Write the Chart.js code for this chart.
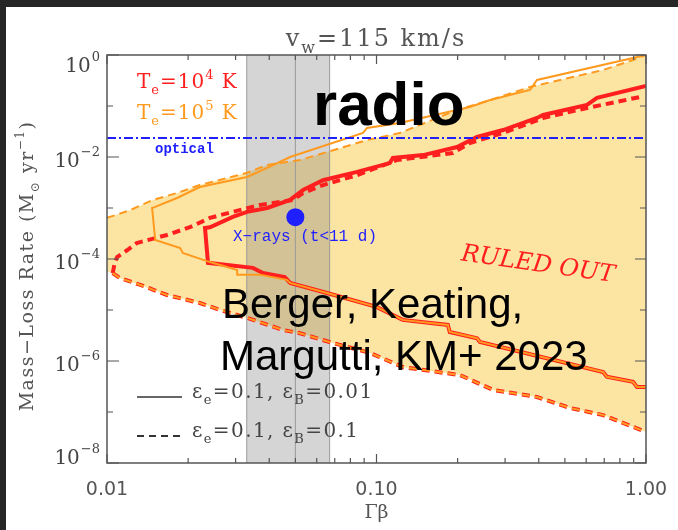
<!DOCTYPE html>
<html>
<head>
<meta charset="utf-8">
<script src="https://cdn.jsdelivr.net/npm/chart.js@4.4.1/dist/chart.umd.min.js"></script>
<style>
  html, body { margin: 0; padding: 0; background: #fff; }
  canvas { display: block; }
</style>
</head>
<body>
<canvas id="chart" width="678" height="530"></canvas>
<script>
// Gamma*beta (x) and mass-loss rate in Msun/yr (y)

// Te = 1e5 K, eps_B = 0.1 (orange dashed), upper edge
const orangeDashUpX = [0.0100, 0.0122, 0.0148, 0.0182, 0.0221, 0.0331, 0.0393, 0.0520, 0.0922, 0.122, 0.199, 0.264, 0.371, 0.693, 0.895, 1.00];
const orangeDashUpY = [6.4e-4, 9.1e-4, 1.44e-3, 1.97e-3, 2.82e-3, 4.9e-3, 7.0e-3, 8.7e-3, 0.0215, 0.0296, 0.0835, 0.131, 0.236, 0.508, 0.80, 1.0];

// eps_B = 0.1 lower edge (both temperatures share it)
const dashLowX = [0.0105, 0.0112, 0.0133, 0.0167, 0.0221, 0.0263, 0.0331, 0.0450, 0.0520, 0.0690, 0.0946, 0.125, 0.204, 0.271, 0.394, 0.522, 0.693, 0.821, 1.00];
const dashLowY = [5.3e-5, 4.2e-5, 3.1e-5, 1.97e-5, 1.37e-5, 1.0e-5, 7.0e-6, 4.05e-6, 3.5e-6, 2.25e-6, 1.44e-6, 7.6e-7, 5.3e-7, 2.7e-7, 1.97e-7, 1.2e-7, 8.7e-8, 6.1e-8, 4.05e-8];
const orangeDashLowStart = {x: 0.0100, y: 5.6e-5};

// Te = 1e4 K, eps_B = 0.1 (red dashed), upper edge from the nose
const redDashUpX = [0.0107, 0.0109, 0.0119, 0.0129, 0.0167, 0.0203, 0.0241, 0.0293, 0.0370, 0.0490, 0.0534, 0.0633, 0.0847, 0.119, 0.192, 0.222, 0.295, 0.415, 0.604, 0.950];
const redDashUpY = [8.7e-5, 1.09e-4, 1.50e-4, 2.06e-4, 2.96e-4, 4.2e-4, 6.4e-4, 8.4e-4, 1.15e-3, 1.44e-3, 1.97e-3, 2.82e-3, 4.4e-3, 8.7e-3, 0.0120, 0.0188, 0.0296, 0.0582, 0.0914, 0.150];

// Te = 1e4 K, eps_B = 0.01 (red solid)
const redSolidUpX = [0.0231, 0.0241, 0.0293, 0.0331, 0.0393, 0.0478, 0.0534, 0.0633, 0.0847, 0.112, 0.115, 0.149, 0.199, 0.236, 0.295, 0.394, 0.415, 0.604, 0.658, 1.00];
const redSolidUpY = [4.05e-4, 4.2e-4, 6.7e-4, 8.4e-4, 1.0e-3, 1.44e-3, 2.25e-3, 3.5e-3, 5.1e-3, 7.6e-3, 9.6e-3, 0.0109, 0.0157, 0.0247, 0.0338, 0.0582, 0.0666, 0.105, 0.144, 0.247];
const redSolidLowX = [0.0237, 0.0348, 0.0379, 0.0457];
const redSolidLowY = [8.4e-5, 6.7e-5, 5.3e-5, 4.4e-5];

// Te = 1e5 K, eps_B = 0.01 (orange solid)
const orangeSolidUpX = [0.0147, 0.0151, 0.0182, 0.0221, 0.0331, 0.0393, 0.0478, 0.0891, 0.0922, 0.122, 0.222, 0.264, 0.371, 0.394, 0.895, 1.00];
const orangeSolidUpY = [1.0e-3, 1.05e-3, 1.57e-3, 2.58e-3, 4.05e-3, 6.1e-3, 0.0100, 0.0296, 0.0370, 0.0464, 0.0956, 0.131, 0.206, 0.324, 0.873, 1.0];
const orangeSolidLowX = [0.0151, 0.0187, 0.0191, 0.0241, 0.0304, 0.0304, 0.0370, 0.0465];
const orangeSolidLowY = [2.36e-4, 1.64e-4, 1.31e-4, 8.7e-5, 6.1e-5, 4.9e-5, 4.9e-5, 3.9e-5];

// eps_B = 0.01 lower edge shared by both temperatures
const solidLowX = [0.0478, 0.0655, 0.100, 0.125, 0.184, 0.187, 0.236, 0.242, 0.693, 0.716, 0.895, 0.926, 1.00];
const solidLowY = [3.4e-5, 2.15e-5, 1.15e-5, 6.4e-6, 5.1e-6, 3.7e-6, 2.8e-6, 2.36e-6, 6.1e-7, 4.9e-7, 3.9e-7, 3.1e-7, 3.1e-7];

// other marks
const bandX = [0.033, 0.067];
const bandMid = 0.05;
const opticalRate = 0.0236;
const xrayX = 0.05;
const xrayY = 6.6e-4;

// axes
const xRange = [0.01, 1];
const yRange = [1e-8, 1];
const xMajorTicks = [0.01, 0.1, 1];
const xTickLabels = ['0.01', '0.10', '1.00'];
const xMinorTicks = [0.02, 0.03, 0.04, 0.05, 0.06, 0.07, 0.08, 0.09, 0.2, 0.3, 0.4, 0.5, 0.6, 0.7, 0.8, 0.9];
const yMajorTicks = [1, 1e-2, 1e-4, 1e-6, 1e-8];
const yTickExponents = ['0', '\u22122', '\u22124', '\u22126', '\u22128'];
const yMinorTicks = [1e-1, 1e-3, 1e-5, 1e-7];

const ORANGE = '#ff9a1f';
const RED = '#ff1f1f';
const BLUE = '#1f1fff';

const pts = (xs, ys) => xs.map((x, i) => ({x: x, y: ys[i]}));
const rev = (a) => a.slice().reverse();

const redSolidPath = rev(pts(redSolidUpX, redSolidUpY))
  .concat(pts(redSolidLowX, redSolidLowY), pts(solidLowX, solidLowY));
const orangeSolidPath = rev(pts(orangeSolidUpX, orangeSolidUpY))
  .concat(pts(orangeSolidLowX, orangeSolidLowY), pts(solidLowX, solidLowY));
const dashLow = pts(dashLowX, dashLowY);
const redDashUpPath = [dashLow[0]].concat(pts(redDashUpX, redDashUpY));

function line(data, color, width, order, extra) {
  return Object.assign({
    data: data, borderColor: color, borderWidth: width, order: order,
    pointRadius: 0, pointHoverRadius: 0, fill: false, tension: 0
  }, extra || {});
}

// fill datasets at index 0 and 1
const datasets = [
  line(pts(orangeDashUpX, orangeDashUpY), 'transparent', 0, 100, {fill: {target: 1}, backgroundColor: '#fce4a3'}),
  line([orangeDashLowStart].concat(dashLow), 'transparent', 0, 101),
  line(bandX.map(x => ({x: x, y: yRange[1]})), 'transparent', 0, 90, {fill: 'start', backgroundColor: 'rgba(120,120,120,0.31)'}),
  line([{x: bandX[0], y: yRange[0]}, {x: bandX[0], y: yRange[1]}], '#999', 1, 80),
  line([{x: bandX[1], y: yRange[0]}, {x: bandX[1], y: yRange[1]}], '#999', 1, 80),
  line([{x: bandMid, y: yRange[0]}, {x: bandMid, y: yRange[1]}], '#999', 1, 80),
  line(redSolidPath, RED, 4, 50),
  line(redDashUpPath, RED, 4, 49, {borderDash: [8, 5]}),
  line(dashLow, RED, 4, 48, {borderDash: [8, 5]}),
  line(orangeSolidPath, ORANGE, 2, 40),
  line(pts(orangeDashUpX, orangeDashUpY), ORANGE, 2, 39, {borderDash: [8, 5]}),
  line(dashLow, ORANGE, 2, 38, {borderDash: [8, 5]}),
  line([{x: xRange[0], y: opticalRate}, {x: xRange[1], y: opticalRate}], BLUE, 2, 30, {borderDash: [9, 3, 2, 3]}),
  line([{x: xrayX, y: xrayY}], BLUE, 0, 20, {showLine: false, pointRadius: 9, pointBackgroundColor: BLUE, pointBorderWidth: 0})
];

const SERIF = '"DejaVu Serif"';

// text with sub/superscripts; ls = letter spacing in px
function setPart(ctx, p, size, family, ls) {
  const s = (p.sub || p.sup) ? Math.round(size * 0.65) : size;
  ctx.font = s + 'px ' + family;
  ctx.letterSpacing = (ls || 0) + 'px';
}
function drawRich(ctx, parts, x, y, size, family, ls) {
  parts.forEach(p => {
    setPart(ctx, p, size, family, ls);
    const dy = p.sub ? size * 0.3 : (p.sup ? -size * 0.45 : 0);
    ctx.fillText(p.t, x, y + dy);
    x += ctx.measureText(p.t).width;
  });
  ctx.letterSpacing = '0px';
  return x;
}
function richWidth(ctx, parts, size, family, ls) {
  let w = 0;
  parts.forEach(p => {
    setPart(ctx, p, size, family, ls);
    w += ctx.measureText(p.t).width;
  });
  ctx.letterSpacing = '0px';
  return w;
}

const decorate = {
  id: 'decorate',
  beforeDraw(chart) {
    const ctx = chart.ctx;
    ctx.save();
    ctx.fillStyle = '#fff';
    ctx.fillRect(0, 0, chart.width, chart.height);
    ctx.fillStyle = '#262626';
    ctx.fillRect(0, 0, chart.width, 7);
    ctx.fillRect(0, 0, 6, chart.height);
    ctx.restore();
  },
  afterDraw(chart) {
    const ctx = chart.ctx;
    const a = chart.chartArea;
    const xs = chart.scales.x, ys = chart.scales.y;
    ctx.save();

    // frame and inward ticks
    ctx.strokeStyle = '#555';
    ctx.lineWidth = 1.5;
    ctx.strokeRect(a.left, a.top, a.right - a.left, a.bottom - a.top);
    ctx.lineWidth = 1.2;
    ctx.beginPath();
    yMajorTicks.forEach(v => {
      const p = ys.getPixelForValue(v);
      ctx.moveTo(a.left, p); ctx.lineTo(a.left + 12, p);
      ctx.moveTo(a.right, p); ctx.lineTo(a.right - 11, p);
    });
    yMinorTicks.forEach(v => {
      const p = ys.getPixelForValue(v);
      ctx.moveTo(a.left, p); ctx.lineTo(a.left + 6, p);
      ctx.moveTo(a.right, p); ctx.lineTo(a.right - 6, p);
    });
    xMajorTicks.forEach(v => {
      const p = xs.getPixelForValue(v);
      ctx.moveTo(p, a.bottom); ctx.lineTo(p, a.bottom - 9);
      ctx.moveTo(p, a.top); ctx.lineTo(p, a.top + 9);
    });
    xMinorTicks.forEach(v => {
      const p = xs.getPixelForValue(v);
      ctx.moveTo(p, a.bottom); ctx.lineTo(p, a.bottom - 5);
      ctx.moveTo(p, a.top); ctx.lineTo(p, a.top + 5);
    });
    ctx.stroke();

    // tick labels
    ctx.fillStyle = '#444';
    ctx.textAlign = 'left';
    ctx.textBaseline = 'alphabetic';
    yMajorTicks.forEach((v, i) => {
      const p = ys.getPixelForValue(v);
      const base = Math.min(Math.max(p + 10, a.top + 17), a.bottom + 1);
      ctx.font = '13px ' + SERIF;
      const ew = ctx.measureText(yTickExponents[i]).width;
      ctx.fillText(yTickExponents[i], 100 - ew, base - 11);
      ctx.font = '20px ' + SERIF;
      const bw = ctx.measureText('10').width;
      ctx.fillText('10', 100 - ew - 1 - bw, base);
    });
    ctx.textAlign = 'center';
    ctx.font = '19px "DejaVu Sans"';
    ctx.fillStyle = '#555';
    xMajorTicks.forEach((v, i) => {
      ctx.fillText(xTickLabels[i], xs.getPixelForValue(v), 495);
    });
    ctx.font = '19px ' + SERIF;
    ctx.fillText('\u0393\u03b2', xs.getPixelForValue(0.1), 518);

    // title
    ctx.textAlign = 'left';
    const title = [{t: 'v'}, {t: 'w', sub: true}, {t: '=115 km/s'}];
    const tw = richWidth(ctx, title, 24, SERIF, 2);
    drawRich(ctx, title, 376 - tw / 2, 46, 24, SERIF, 2);

    // y axis title
    const yt = [{t: 'Mass\u2212Loss Rate (M'}, {t: '\u2299', sub: true}, {t: ' yr'}, {t: '\u22121', sup: true}, {t: ')'}];
    ctx.save();
    ctx.translate(33, 266);
    ctx.rotate(-Math.PI / 2);
    const yw = richWidth(ctx, yt, 19, SERIF, 1.5);
    drawRich(ctx, yt, -yw / 2, 0, 19, SERIF, 1.5);
    ctx.restore();

    // temperature labels
    ctx.fillStyle = RED;
    drawRich(ctx, [{t: 'T'}, {t: 'e', sub: true}, {t: '=10'}, {t: '4', sup: true}, {t: ' K'}], 137, 88, 20, SERIF, 1);
    ctx.fillStyle = ORANGE;
    drawRich(ctx, [{t: 'T'}, {t: 'e', sub: true}, {t: '=10'}, {t: '5', sup: true}, {t: ' K'}], 137, 119, 20, SERIF, 1);

    // optical / x-ray labels
    ctx.fillStyle = BLUE;
    ctx.font = 'bold 14px "Liberation Mono"';
    ctx.fillText('optical', 155, 153);
    ctx.font = '16px "Liberation Mono"';
    ctx.fillText('X\u2212rays (t<11 d)', 233, 241);

    // ruled out
    ctx.save();
    ctx.translate(538, 265);
    ctx.rotate(8.1 * Math.PI / 180);
    ctx.fillStyle = RED;
    ctx.textAlign = 'center';
    ctx.textBaseline = 'middle';
    ctx.font = 'italic 24px ' + SERIF;
    ctx.fillText('RULED OUT', 0, 0);
    ctx.restore();

    // legend
    ctx.strokeStyle = '#333';
    ctx.lineWidth = 1.6;
    ctx.beginPath();
    ctx.moveTo(137, 397); ctx.lineTo(182, 397);
    ctx.stroke();
    ctx.lineWidth = 2.2;
    ctx.setLineDash([7, 5]);
    ctx.beginPath();
    ctx.moveTo(137, 436); ctx.lineTo(182, 436);
    ctx.stroke();
    ctx.setLineDash([]);
    ctx.fillStyle = '#444';
    drawRich(ctx, [{t: '\u03b5'}, {t: 'e', sub: true}, {t: '=0.1, \u03b5'}, {t: 'B', sub: true}, {t: '=0.01'}], 192, 398, 20, SERIF, 1.4);
    drawRich(ctx, [{t: '\u03b5'}, {t: 'e', sub: true}, {t: '=0.1, \u03b5'}, {t: 'B', sub: true}, {t: '=0.1'}], 192, 437, 20, SERIF, 1.4);

    // overlay texts
    ctx.fillStyle = '#000';
    ctx.font = 'bold 62px "Liberation Sans"';
    ctx.fillText('radio', 313, 125);
    ctx.font = '42px "Liberation Sans"';
    ctx.fillText('Berger, Keating,', 222, 318);
    ctx.fillText('Margutti, KM+ 2023', 220, 370);

    ctx.restore();
  }
};

new Chart(document.getElementById('chart'), {
  type: 'line',
  data: {datasets: datasets},
  options: {
    responsive: false,
    animation: false,
    events: [],
    layout: {padding: {left: 107, top: 55, right: 32, bottom: 67}},
    plugins: {legend: {display: false}, tooltip: {enabled: false}, title: {display: false}},
    scales: {
      x: {type: 'logarithmic', min: xRange[0], max: xRange[1], display: false},
      y: {type: 'logarithmic', min: yRange[0], max: yRange[1], display: false}
    }
  },
  plugins: [decorate]
});
</script>
</body>
</html>
